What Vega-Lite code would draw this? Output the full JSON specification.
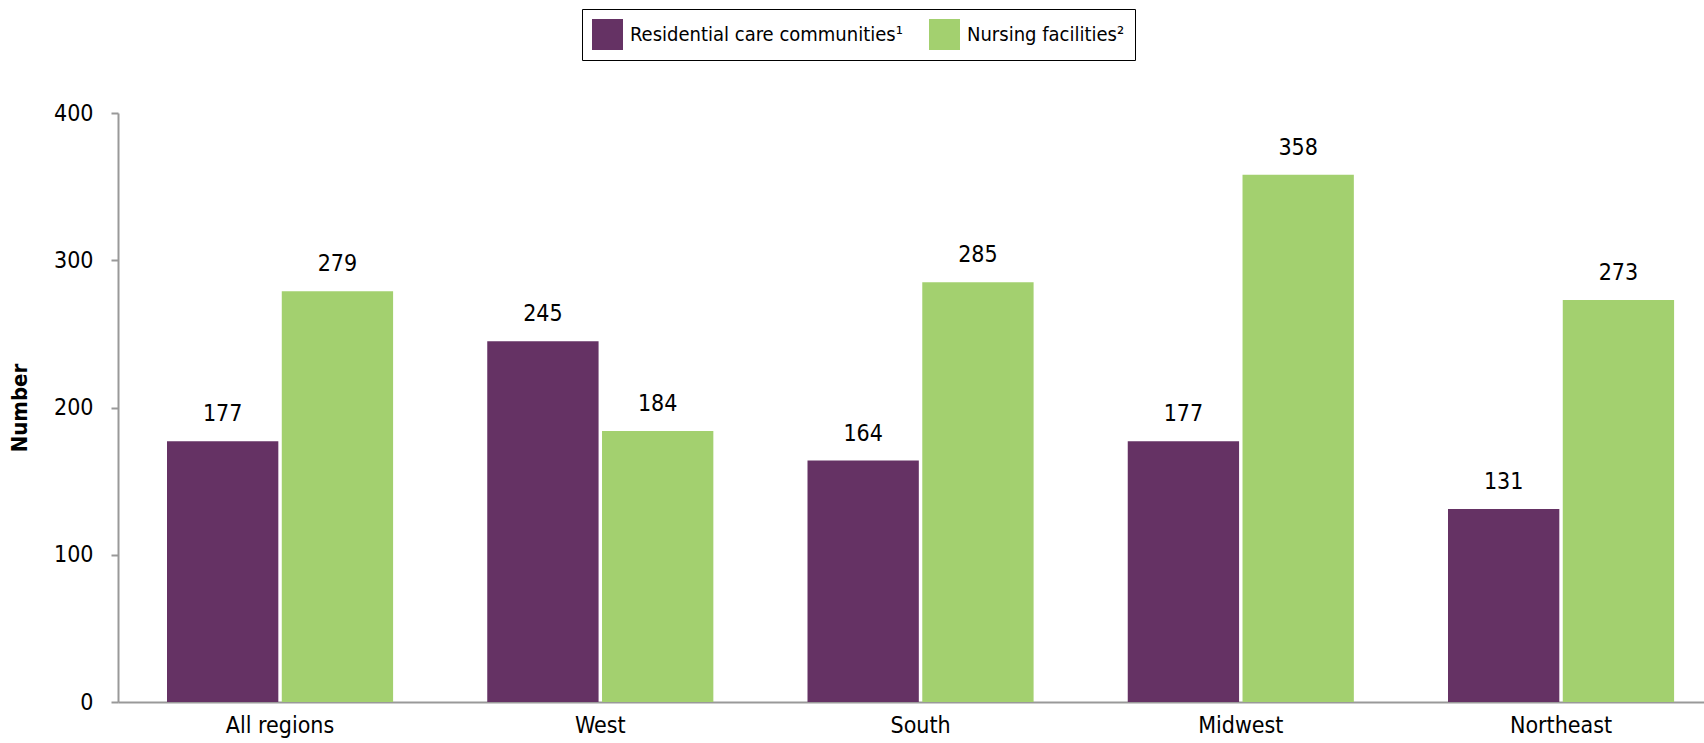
{
  "$schema": "https://vega.github.io/schema/vega-lite/v6.json",
  "width": 1586,
  "height": 589,
  "autosize": {"type": "none"},
  "padding": {"left": 118, "top": 113, "right": 0, "bottom": 41},
  "config": {"view": {"stroke": null}, "font": "'DejaVu Sans Condensed', 'Liberation Sans', sans-serif"},
  "data": {
    "values": [
      {"region": "All regions", "type": "Residential care communities¹", "value": 177},
      {"region": "All regions", "type": "Nursing facilities²", "value": 279},
      {"region": "West", "type": "Residential care communities¹", "value": 245},
      {"region": "West", "type": "Nursing facilities²", "value": 184},
      {"region": "South", "type": "Residential care communities¹", "value": 164},
      {"region": "South", "type": "Nursing facilities²", "value": 285},
      {"region": "Midwest", "type": "Residential care communities¹", "value": 177},
      {"region": "Midwest", "type": "Nursing facilities²", "value": 358},
      {"region": "Northeast", "type": "Residential care communities¹", "value": 131},
      {"region": "Northeast", "type": "Nursing facilities²", "value": 273}
    ]
  },
  "encoding": {
    "x": {
      "field": "region",
      "type": "nominal",
      "sort": ["All regions", "West", "South", "Midwest", "Northeast"],
      "scale": {"paddingInner": 0.294, "paddingOuter": 0.1232, "align": 0.621},
      "axis": {
        "title": null,
        "labelAngle": 0,
        "labelFontSize": 23,
        "labelColor": "#000000",
        "ticks": false,
        "domainColor": "#999999",
        "domainWidth": 2,
        "labelPadding": 12
      }
    },
    "xOffset": {
      "field": "type",
      "type": "nominal",
      "sort": ["Residential care communities¹", "Nursing facilities²"],
      "scale": {"paddingInner": 0.03, "paddingOuter": 0}
    },
    "y": {
      "field": "value",
      "type": "quantitative",
      "scale": {"domain": [0, 400], "nice": false},
      "axis": {
        "values": [0, 100, 200, 300, 400],
        "grid": false,
        "title": "Number",
        "titleFontSize": 22,
        "titleFontWeight": "bold",
        "titleColor": "#000000",
        "titlePadding": 22,
        "labelFontSize": 23,
        "labelColor": "#000000",
        "labelPadding": 18,
        "tickSize": 7,
        "tickWidth": 2,
        "tickColor": "#999999",
        "domainColor": "#999999",
        "domainWidth": 2
      }
    }
  },
  "layer": [
    {
      "mark": {"type": "bar"},
      "encoding": {
        "color": {
          "field": "type",
          "type": "nominal",
          "scale": {
            "domain": ["Residential care communities¹", "Nursing facilities²"],
            "range": ["#653264", "#a3d06f"]
          },
          "legend": {
            "title": null,
            "orient": "none",
            "legendX": 464,
            "legendY": -104,
            "direction": "horizontal",
            "columns": 2,
            "strokeColor": "#000000",
            "padding": 10,
            "symbolType": "square",
            "symbolSize": 961,
            "symbolStrokeWidth": 0,
            "symbolOpacity": 1,
            "labelFontSize": 20,
            "labelColor": "#000000",
            "labelOffset": 7,
            "columnPadding": 26,
            "labelLimit": 400
          }
        }
      }
    },
    {
      "mark": {"type": "text", "dy": -20, "baseline": "alphabetic", "fontSize": 23, "color": "#000000"},
      "encoding": {"text": {"field": "value", "type": "quantitative"}}
    }
  ]
}
